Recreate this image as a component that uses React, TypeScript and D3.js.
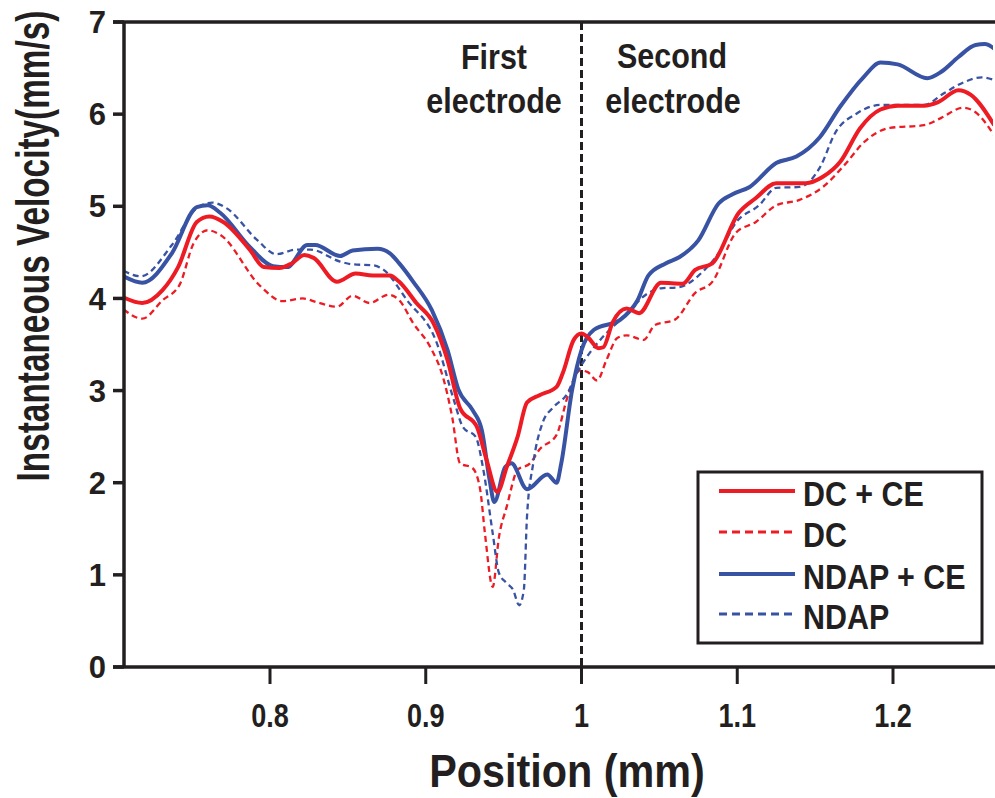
import React from "react";
import * as d3 from "d3";

// DC + CE (red solid)
const dcCeX = [0.706, 0.718, 0.731, 0.741, 0.753, 0.761, 0.77, 0.787, 0.796, 0.806, 0.814, 0.822, 0.828, 0.843, 0.855, 0.866, 0.877, 0.883, 0.894, 0.905, 0.914, 0.922, 0.933, 0.939, 0.946, 0.952, 0.959, 0.965, 0.973, 0.984, 0.988, 0.995, 1.0, 1.004, 1.011, 1.014, 1.02, 1.029, 1.037, 1.051, 1.065, 1.073, 1.084, 1.101, 1.112, 1.125, 1.144, 1.155, 1.166, 1.179, 1.192, 1.203, 1.22, 1.229, 1.242, 1.25, 1.265];
const dcCeY = [4.01, 3.95, 4.09, 4.34, 4.83, 4.89, 4.83, 4.53, 4.34, 4.33, 4.38, 4.47, 4.44, 4.18, 4.27, 4.25, 4.25, 4.18, 3.95, 3.73, 3.33, 2.81, 2.6, 2.25, 1.9, 2.17, 2.5, 2.87, 2.95, 3.04, 3.19, 3.55, 3.62, 3.58, 3.46, 3.47, 3.74, 3.89, 3.84, 4.17, 4.16, 4.31, 4.38, 4.93, 5.09, 5.25, 5.25, 5.32, 5.48, 5.85, 6.05, 6.09, 6.09, 6.13, 6.26, 6.21, 5.88];

// DC (red dashed)
const dcX = [0.706, 0.718, 0.731, 0.742, 0.751, 0.76, 0.768, 0.794, 0.808, 0.821, 0.83, 0.843, 0.853, 0.864, 0.876, 0.883, 0.892, 0.903, 0.911, 0.917, 0.922, 0.93, 0.935, 0.938, 0.943, 0.947, 0.952, 0.959, 0.967, 0.973, 0.984, 0.991, 0.999, 1.004, 1.01, 1.016, 1.023, 1.029, 1.04, 1.047, 1.06, 1.073, 1.084, 1.099, 1.112, 1.125, 1.14, 1.155, 1.17, 1.181, 1.198, 1.22, 1.231, 1.245, 1.253, 1.265];
const dcY = [3.88, 3.78, 3.98, 4.15, 4.6, 4.74, 4.69, 4.13, 3.97, 4.0, 3.96, 3.91, 4.03, 3.95, 4.04, 3.98, 3.73, 3.47, 3.15, 2.71, 2.21, 2.16, 1.92, 1.45, 0.87, 1.41, 1.74, 2.14, 2.21, 2.36, 2.52, 2.93, 3.22, 3.2, 3.11, 3.33, 3.57, 3.6, 3.55, 3.71, 3.77, 4.06, 4.18, 4.71, 4.83, 5.01, 5.07, 5.21, 5.47, 5.69, 5.85, 5.88, 5.96, 6.07, 6.02, 5.77];

// NDAP + CE (blue solid)
const ndapCeX = [0.706, 0.718, 0.737, 0.753, 0.76, 0.768, 0.787, 0.802, 0.811, 0.824, 0.829, 0.845, 0.853, 0.869, 0.877, 0.883, 0.892, 0.904, 0.914, 0.921, 0.93, 0.936, 0.941, 0.944, 0.951, 0.955, 0.965, 0.978, 0.984, 0.987, 0.994, 1.0, 1.008, 1.025, 1.036, 1.043, 1.054, 1.063, 1.075, 1.088, 1.097, 1.108, 1.125, 1.138, 1.153, 1.166, 1.181, 1.192, 1.203, 1.222, 1.231, 1.242, 1.253, 1.259, 1.265];
const ndapCeY = [4.24, 4.17, 4.49, 4.99, 5.01, 4.93, 4.56, 4.35, 4.34, 4.58, 4.58, 4.46, 4.52, 4.54, 4.49, 4.38, 4.18, 3.87, 3.44, 3.01, 2.79, 2.57, 2.03, 1.79, 2.17, 2.21, 1.93, 2.09, 2.0, 2.21, 3.01, 3.44, 3.66, 3.77, 3.98, 4.25, 4.38, 4.45, 4.63, 5.03, 5.13, 5.21, 5.47, 5.54, 5.75, 6.08, 6.4, 6.56, 6.54, 6.39, 6.46, 6.62, 6.75, 6.76, 6.71];

// NDAP (blue dashed)
const ndapX = [0.706, 0.717, 0.737, 0.753, 0.763, 0.772, 0.792, 0.804, 0.817, 0.826, 0.845, 0.853, 0.866, 0.873, 0.888, 0.907, 0.918, 0.924, 0.932, 0.937, 0.943, 0.947, 0.952, 0.956, 0.96, 0.963, 0.965, 0.969, 0.975, 0.982, 0.991, 0.997, 1.002, 1.012, 1.027, 1.043, 1.051, 1.062, 1.079, 1.088, 1.099, 1.114, 1.125, 1.14, 1.153, 1.163, 1.177, 1.192, 1.22, 1.233, 1.246, 1.257, 1.265];
const ndapY = [4.3, 4.24, 4.58, 4.98, 5.04, 4.98, 4.63, 4.48, 4.53, 4.53, 4.4, 4.37, 4.36, 4.31, 3.98, 3.52, 2.9, 2.6, 2.5, 2.14, 1.45, 1.02, 0.91, 0.84, 0.67, 0.84, 1.63, 2.21, 2.65, 2.82, 2.97, 3.19, 3.33, 3.55, 3.8, 4.06, 4.11, 4.12, 4.31, 4.49, 4.82, 5.01, 5.2, 5.21, 5.42, 5.8, 6.01, 6.1, 6.1, 6.23, 6.35, 6.4, 6.37];

const xTicks = [0.8, 0.9, 1, 1.1, 1.2];
const yTicks = [0, 1, 2, 3, 4, 5, 6, 7];
const legendLabels = ["DC + CE", "DC", "NDAP + CE", "NDAP"];

const RED = "#ED1C24";
const BLUE = "#3953A4";
const INK = "#231f20";
const SANS = "'Liberation Sans', Arial, sans-serif";

const W = 995;
const H = 798;
const left = 124;
const right = 993;
const top = 22;
const bottom = 667;

// bold text squeezed horizontally to imitate a condensed face
const Narrow = ({ x, y, size, anchor = "start", sx = 0.82, rotate = 0, children }: any) => (
  <g transform={`translate(${x},${y}) rotate(${rotate}) scale(${sx},1)`}>
    <text x={0} y={0} textAnchor={anchor} fontFamily={SANS} fontWeight="bold" fontSize={size} fill={INK}>
      {children}
    </text>
  </g>
);

const App = () => {
  const x = d3.scaleLinear().domain([0.8, 1.2]).range([270, 893]);
  const y = d3.scaleLinear().domain([0, 7]).range([bottom, top]);

  const line = d3
    .line<[number, number]>()
    .x((d) => x(d[0]))
    .y((d) => y(d[1]))
    .curve(d3.curveMonotoneX);

  const series = [
    { xs: dcX, ys: dcY, color: RED, dash: "6,4", width: 2.3 },
    { xs: ndapX, ys: ndapY, color: BLUE, dash: "6,4", width: 2.3 },
    { xs: ndapCeX, ys: ndapCeY, color: BLUE, dash: null, width: 4 },
    { xs: dcCeX, ys: dcCeY, color: RED, dash: null, width: 4 },
  ];

  const legendStyles = [
    { color: RED, dash: null, width: 4 },
    { color: RED, dash: "8,5", width: 3 },
    { color: BLUE, dash: null, width: 4 },
    { color: BLUE, dash: "8,5", width: 3 },
  ];
  const legendRowY = [491, 532, 574, 614];

  return (
    <svg
      width={W}
      height={H}
      style={{ position: "absolute", left: 0, top: 0, background: "#fff" }}
    >
      <defs>
        <clipPath id="plot">
          <rect x={left} y={top} width={right - left} height={bottom - top} />
        </clipPath>
      </defs>

      {/* divider between electrodes */}
      <line
        x1={x(1)}
        x2={x(1)}
        y1={top}
        y2={bottom}
        stroke={INK}
        strokeWidth={3}
        strokeDasharray="8,4"
      />

      <g clipPath="url(#plot)">
        {series.map((s, i) => (
          <path
            key={i}
            d={line(s.xs.map((v, j) => [v, s.ys[j]] as [number, number])) || ""}
            fill="none"
            stroke={s.color}
            strokeWidth={s.width}
            strokeDasharray={s.dash || undefined}
            strokeLinejoin="round"
          />
        ))}
      </g>

      {/* frame */}
      <line x1={113} x2={W} y1={top} y2={top} stroke={INK} strokeWidth={3.5} />
      <line x1={left} x2={left} y1={top} y2={bottom} stroke={INK} strokeWidth={3.5} />
      <line x1={113} x2={W} y1={bottom} y2={bottom} stroke={INK} strokeWidth={3.5} />

      {yTicks.map((t) => (
        <g key={t}>
          <line x1={113} x2={left} y1={y(t)} y2={y(t)} stroke={INK} strokeWidth={3.5} />
          <text
            x={106}
            y={y(t)}
            dy="0.36em"
            textAnchor="end"
            fontFamily={SANS}
            fontWeight="bold"
            fontSize={31}
            fill={INK}
          >
            {t}
          </text>
        </g>
      ))}

      {xTicks.map((t) => (
        <g key={t}>
          <line x1={x(t)} x2={x(t)} y1={bottom} y2={684} stroke={INK} strokeWidth={3} />
          <Narrow x={x(t)} y={727} size={33} anchor="middle">
            {d3.format("")(t)}
          </Narrow>
        </g>
      ))}

      <Narrow x={567} y={787} size={47} anchor="middle" sx={0.88}>
        Position (mm)
      </Narrow>

      <Narrow x={49} y={246} size={47} anchor="middle" sx={0.71} rotate={-90}>
        Instantaneous Velocity(mm/s)
      </Narrow>

      {/* electrode annotations */}
      <Narrow x={494} y={69} size={35} anchor="middle" sx={0.87}>First</Narrow>
      <Narrow x={494} y={113} size={35} anchor="middle" sx={0.87}>electrode</Narrow>
      <Narrow x={672} y={68} size={35} anchor="middle" sx={0.87}>Second</Narrow>
      <Narrow x={673} y={113} size={35} anchor="middle" sx={0.87}>electrode</Narrow>

      {/* legend */}
      <rect x={698} y={472} width={284} height={171} fill="#fff" stroke={INK} strokeWidth={3} />
      {legendLabels.map((label, i) => (
        <g key={label}>
          <line
            x1={719}
            x2={795}
            y1={legendRowY[i]}
            y2={legendRowY[i]}
            stroke={legendStyles[i].color}
            strokeWidth={legendStyles[i].width}
            strokeDasharray={legendStyles[i].dash || undefined}
          />
          <Narrow x={803} y={legendRowY[i] + 15} size={36} sx={0.845}>
            {label}
          </Narrow>
        </g>
      ))}
    </svg>
  );
};

export default App;
